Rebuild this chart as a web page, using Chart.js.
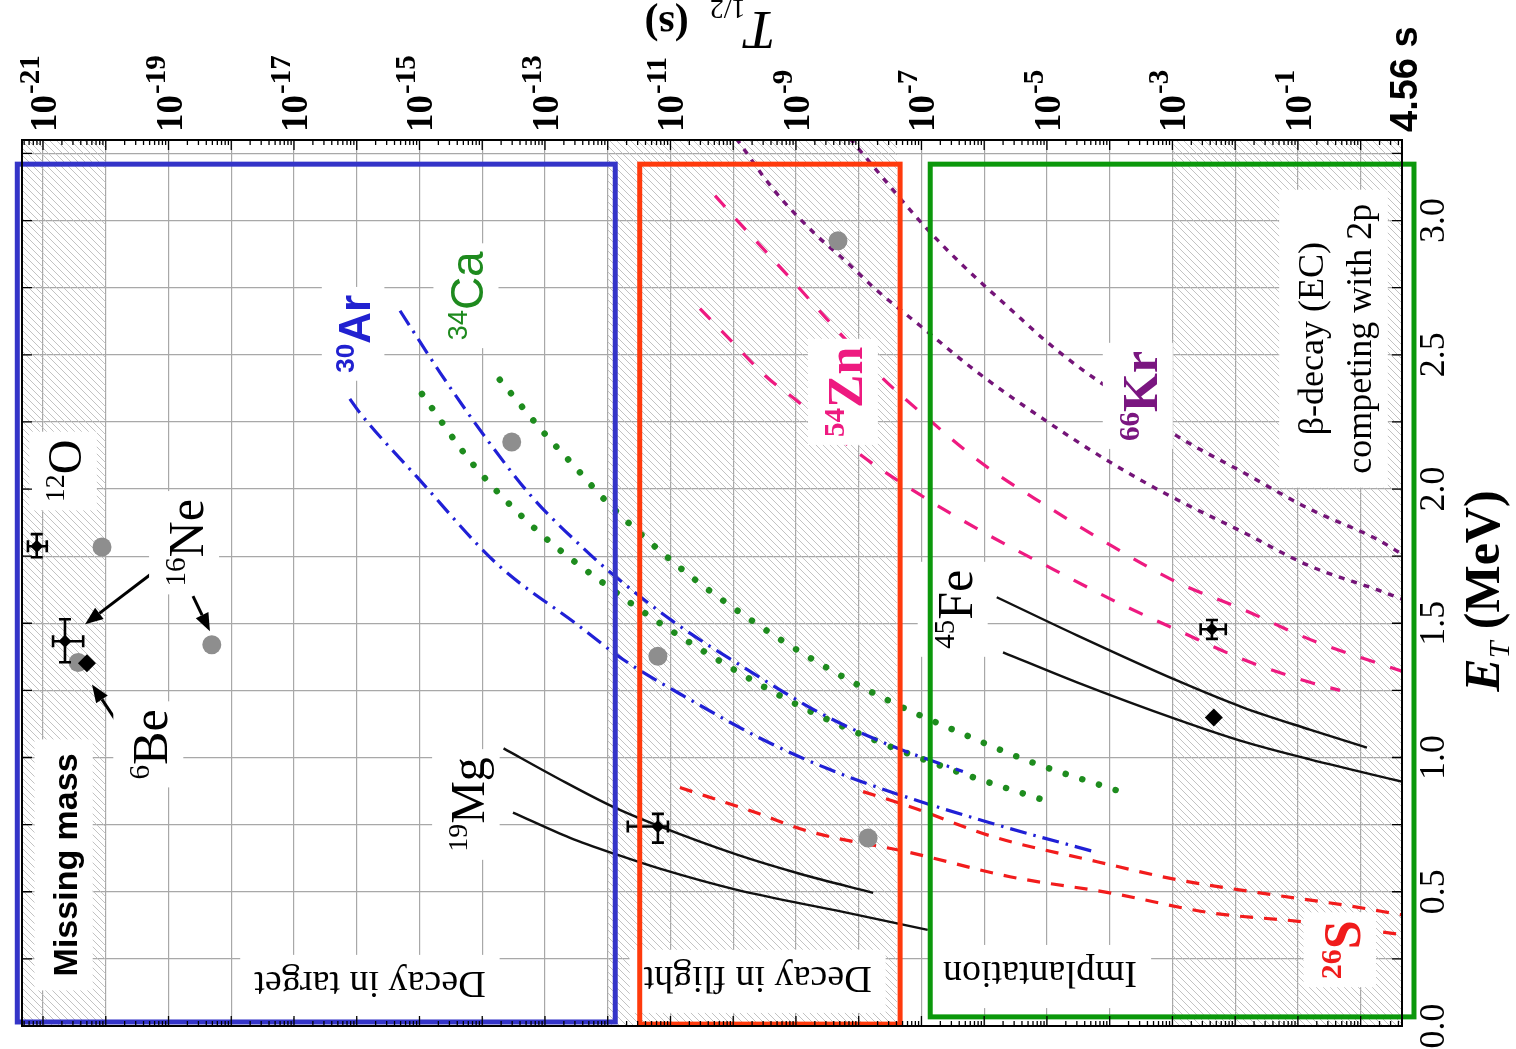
<!DOCTYPE html>
<html><head><meta charset="utf-8">
<script src="https://cdn.jsdelivr.net/npm/chart.js@4.4.1/dist/chart.umd.min.js"></script>
<style>html,body{margin:0;padding:0;background:#fff;}canvas{display:block;}</style>
</head><body>
<canvas id="c" width="1516" height="1049" style="width:1516px;height:1049px"></canvas>
<script>
// ---------------- DATA (log10 of T1/2 in s, and E_T in MeV) ----------------
const logTMin = -21.335, tMax = 4.56;
const eMax = 3.3;
const gridDecades = [-21,-20,-19,-18,-17,-16,-15,-14,-13,-12,-11,-10,-9,-8,-7,-6,-5,-4,-3,-2,-1,0];
const gridEnergies = [0,0.25,0.5,0.75,1,1.25,1.5,1.75,2,2.25,2.5,2.75,3,3.25];
const topTickExponents = [-21,-19,-17,-15,-13,-11,-9,-7,-5,-3,-1];
const energyTickValues = [0,0.5,1,1.5,2,2.5,3];
const energyTickLabels = ['0.0','0.5','1.0','1.5','2.0','2.5','3.0'];

const mg19UpperLogT = [-13.66,-12.79,-11.92,-11.20,-9.94,-8.94,-7.77];
const mg19UpperE    = [1.034,0.922,0.817,0.746,0.638,0.567,0.496];
const mg19LowerLogT = [-13.51,-12.60,-11.85,-11.17,-9.94,-8.25,-6.90];
const mg19LowerE    = [0.795,0.701,0.638,0.586,0.507,0.425,0.358];

const fe45UpperLogT = [-5.80,-4.52,-2.93,-1.88,-0.81,0.10];
const fe45UpperE    = [1.597,1.455,1.287,1.187,1.104,1.037];
const fe45LowerLogT = [-5.70,-4.52,-2.93,-1.88,-0.81,0.66];
const fe45LowerE    = [1.392,1.280,1.142,1.060,0.993,0.910];

const s26LowerLogT = [-10.85,-9.69,-8.78,-7.18,-5.59,-4.00,-2.40,-0.92,0.66];
const s26LowerE    = [0.888,0.799,0.724,0.646,0.556,0.496,0.422,0.388,0.340];
const s26UpperLogT = [-7.93,-7.18,-5.86,-4.20,-2.93,-1.61,-0.28,0.66];
const s26UpperE    = [0.873,0.817,0.705,0.612,0.545,0.496,0.451,0.414];

const ar30UpperLogT = [-15.31,-14.67,-13.92,-13.19,-12.39,-11.96,-10.96,-9.73,-8.57,-7.45,-6.34];
const ar30UpperE    = [2.664,2.433,2.183,1.966,1.780,1.690,1.507,1.321,1.160,1.041,0.948];
const ar30LowerLogT = [-16.11,-15.95,-15.04,-13.76,-12.49,-11.76,-10.69,-9.53,-8.46,-7.45,-5.91,-4.20];
const ar30LowerE    = [2.336,2.284,2.045,1.720,1.496,1.366,1.216,1.067,0.955,0.869,0.757,0.646];

const ca34RightLogT = [-13.72,-13.03,-12.52,-12.01,-10.88,-9.76,-8.65,-7.50,-6.39,-5.27,-3.88];
const ca34RightE    = [2.407,2.213,2.082,1.951,1.713,1.519,1.354,1.209,1.093,0.985,0.877];
const ca34LeftLogT  = [-14.96,-14.15,-13.10,-11.98,-11.14,-10.02,-8.90,-7.77,-6.39,-4.98];
const ca34LeftE     = [2.354,2.093,1.840,1.634,1.496,1.332,1.187,1.067,0.944,0.836];

const zn54UpperLogT = [-10.29,-9.92,-9.45,-8.97,-8.51,-7.66,-7.02,-6.02,-4.98,-3.96,-2.93,-1.88,-0.81,0.66];
const zn54UpperE    = [3.093,2.996,2.877,2.754,2.634,2.422,2.287,2.093,1.933,1.787,1.653,1.552,1.440,1.321];
const zn54LowerLogT = [-10.53,-10.02,-9.49,-8.98,-8.03,-6.99,-5.96,-4.90,-3.88,-2.88,-1.88,-0.81,-0.33];
const zn54LowerE    = [2.672,2.549,2.422,2.328,2.138,1.974,1.832,1.701,1.578,1.470,1.366,1.280,1.250];

const kr66LeftLogT  = [-9.95,-9.37,-8.70,-8.25,-7.74,-7.02,-6.12,-5.06,-4.00,-3.04,-1.88,-0.81,0.26,0.66];
const kr66LeftE     = [3.306,3.119,2.951,2.858,2.746,2.608,2.437,2.261,2.101,1.974,1.840,1.713,1.625,1.590];
const kr66RightLogT = [-8.14,-7.47,-7.06,-6.66,-6.12,-5.59,-5.06,-4.52,-4.00,-2.93,-1.88,-0.81,0.26,0.66];
const kr66RightE    = [3.306,3.119,3.007,2.907,2.784,2.672,2.560,2.459,2.373,2.198,2.063,1.925,1.813,1.757];

const grayLogT = [-20.06,-18.31,-20.44,-13.53,-11.20,-7.85,-8.33];
const grayE    = [1.784,1.420,1.354,2.175,1.377,0.700,2.925];
const diamondLogT = [-20.30,-2.34];
const diamondE    = [1.351,1.149];
const errLogT   = [-21.10,-20.65,-11.20,-2.37];
const errE      = [1.787,1.433,0.743,1.478];
const errLogTLo = [-21.24,-20.84,-11.68,-2.55];
const errLogTHi = [-20.94,-20.36,-11.04,-2.15];
const errELo    = [1.746,1.355,0.683,1.442];
const errEHi    = [1.832,1.515,0.790,1.512];

// ---------------- config ----------------
const SERIF = '"Liberation Serif","Times New Roman",serif';
const SANS = '"Liberation Sans",Arial,sans-serif';
const hatchBands = [[-21.335,-20],[-12,-7.39],[-3,0.659]];
const boxes = [
  {lt0:-21.41, lt1:-11.88, e0:0.015, e1:3.21, color:'#3434c8'},
  {lt0:-11.49, lt1:-7.34,  e0:0.007, e1:3.21, color:'#ff3a0c'},
  {lt0:-6.86,  lt1:0.85,   e0:0.034, e1:3.21, color:'#0b980b'}
];
const nucLabels = [
  {sup:'12', main:'O',  lt:-20.65, e:2.067, font:SERIF, w:'', size:48, color:'#000'},
  {sup:'16', main:'Ne', lt:-18.72, e:1.800, font:SERIF, w:'', size:50, color:'#000'},
  {sup:'6',  main:'Be', lt:-19.29, e:1.049, font:SERIF, w:'', size:50, color:'#000'},
  {sup:'19', main:'Mg', lt:-14.23, e:0.825, font:SERIF, w:'', size:48, color:'#000'},
  {sup:'30', main:'Ar', lt:-16.03, e:2.578, font:SANS,  w:'bold ', size:44, color:'#2121d0'},
  {sup:'34', main:'Ca', lt:-14.23, e:2.720, font:SANS,  w:'', size:46, color:'#1e8a1e'},
  {sup:'54', main:'Zn', lt:-8.22,  e:2.362, font:SERIF, w:'bold ', size:50, color:'#ee1a80'},
  {sup:'66', main:'Kr', lt:-3.52,  e:2.347, font:SERIF, w:'bold ', size:50, color:'#7a1680'},
  {sup:'45', main:'Fe', lt:-6.47,  e:1.552, font:SERIF, w:'', size:50, color:'#000'},
  {sup:'26', main:'S',  lt:-0.30,  e:0.284, font:SERIF, w:'bold ', size:52, color:'#f01c1c'}
];
const regionLabels = [
  {lines:['Missing mass'], lt:-20.65, e:0.60, rot:-90, font:'bold 34px '+SANS, size:34},
  {lines:['Decay in target'], lt:-15.79, e:0.153, rot:180, font:'38px '+SERIF, size:38},
  {lines:['Decay in flight'], lt:-9.61, e:0.172, rot:180, font:'38px '+SERIF, size:38},
  {lines:['Implantation'], lt:-5.11, e:0.19, rot:180, font:'38px '+SERIF, size:38},
  {lines:['\u03b2-decay (EC)','competing with 2p'], lt:-0.41, e:2.56, rot:-90, font:'36px '+SERIF, size:36, lh:48}
];
const arrows = [
  {from:[-19.22,1.694], to:[-20.33,1.496]},
  {from:[-18.61,1.601], to:[-18.34,1.470]},
  {from:[-19.74,1.104], to:[-20.22,1.272]}
];

// ---------------- helpers ----------------
const pts = (lt, e) => lt.map((v, i) => ({x: Math.pow(10, v), y: e[i]}));
const lineDS = (lt, e, st) => Object.assign({data: pts(lt, e), showLine: true, pointRadius: 0, fill: false,
  cubicInterpolationMode: 'monotone', borderCapStyle: 'butt', order: 10}, st);
const stMg = {borderColor:'#111', borderWidth:2.4};
const stS  = {borderColor:'#f21c1c', borderWidth:3.2, borderDash:[13,11]};
const stZn = {borderColor:'#ee1a80', borderWidth:3.2, borderDash:[15,16]};
const stKr = {borderColor:'#741478', borderWidth:3.4, borderDash:[6,7]};
const stAr = {borderColor:'#2020d6', borderWidth:3.2, borderDash:[17,7,2.5,7]};
const stCa = {borderColor:'#1e8c1e', borderWidth:6.5, borderDash:[0.01,17.5], borderCapStyle:'round'};

const datasets = [
  lineDS(mg19UpperLogT, mg19UpperE, stMg), lineDS(mg19LowerLogT, mg19LowerE, stMg),
  lineDS(fe45UpperLogT, fe45UpperE, stMg), lineDS(fe45LowerLogT, fe45LowerE, stMg),
  lineDS(s26LowerLogT, s26LowerE, stS), lineDS(s26UpperLogT, s26UpperE, stS),
  lineDS(ar30UpperLogT, ar30UpperE, stAr), lineDS(ar30LowerLogT, ar30LowerE, stAr),
  lineDS(ca34RightLogT, ca34RightE, stCa), lineDS(ca34LeftLogT, ca34LeftE, stCa),
  lineDS(zn54UpperLogT, zn54UpperE, stZn), lineDS(zn54LowerLogT, zn54LowerE, stZn),
  lineDS(kr66LeftLogT, kr66LeftE, stKr), lineDS(kr66RightLogT, kr66RightE, stKr),
  {data: pts(grayLogT, grayE), pointStyle:'circle', pointRadius:9.5, backgroundColor:'#8e8e8e', borderWidth:0, order: 3},
  {data: pts(diamondLogT, diamondE), pointStyle:'rectRot', pointRadius:9, backgroundColor:'#000', borderWidth:0, order: 1},
  {data: pts(errLogT, errE), pointStyle:'rectRot', pointRadius:6.5, backgroundColor:'#000', borderWidth:0, order: 0}
];

function makeHatch() {
  const s = 7, c = document.createElement('canvas'); c.width = s; c.height = s;
  const g = c.getContext('2d'); g.strokeStyle = '#bcbcbc'; g.lineWidth = 0.9;
  g.beginPath(); g.moveTo(-1,-1); g.lineTo(s+1,s+1); g.moveTo(-1,s-1); g.lineTo(1,s+1); g.moveTo(s-1,-1); g.lineTo(s+1,1); g.stroke();
  return c;
}

// draw lines of rich text (each line is array of parts {t,f,dy,c}) centered at cx,cy
function richLines(ctx, cx, cy, rot, lines, size, lh, bg, padX, padY, color) {
  ctx.save(); ctx.translate(cx, cy); ctx.rotate(rot);
  const widths = lines.map(parts => parts.reduce((s, p) => { ctx.font = p.f; p.w = ctx.measureText(p.t).width; return s + p.w; }, 0));
  const maxW = Math.max(...widths), n = lines.length;
  if (bg) {
    ctx.fillStyle = '#fff';
    const top = -((n - 1) / 2) * lh - 0.66 * size - padY;
    const h = (n - 1) * lh + 1.24 * size + 2 * padY;
    ctx.fillRect(-maxW / 2 - padX, top, maxW + 2 * padX, h);
  }
  ctx.textAlign = 'left'; ctx.textBaseline = 'alphabetic';
  lines.forEach((parts, i) => {
    let x = -widths[i] / 2; const base = (i - (n - 1) / 2) * lh + 0.34 * size;
    parts.forEach(p => { ctx.font = p.f; ctx.fillStyle = p.c || color; ctx.fillText(p.t, x, base + (p.dy || 0)); x += p.w; });
  });
  ctx.restore();
}

const overlay = {
  id: 'overlay',
  beforeDatasetsDraw(chart) {
    const {ctx, chartArea: a, scales: {x}} = chart;
    ctx.save();
    ctx.beginPath(); ctx.rect(a.left, a.top, a.right - a.left, a.bottom - a.top); ctx.clip();
    ctx.fillStyle = ctx.createPattern(makeHatch(), 'repeat');
    hatchBands.forEach(([l0, l1]) => {
      const x0 = x.getPixelForValue(Math.pow(10, l0)), x1 = x.getPixelForValue(Math.pow(10, l1));
      ctx.fillRect(x0, a.top, x1 - x0, a.bottom - a.top);
    });
    ctx.restore();
  },
  afterDatasetsDraw(chart) {
    const {ctx, chartArea: a, scales: {x, y}} = chart;
    const px = lt => x.getPixelForValue(Math.pow(10, lt));
    const py = e => y.getPixelForValue(e);
    // error bars
    ctx.save(); ctx.strokeStyle = '#000'; ctx.lineWidth = 2.6;
    errLogT.forEach((lt, i) => {
      const cx = px(lt), cy = py(errE[i]), xl = px(errLogTLo[i]), xh = px(errLogTHi[i]), yl = py(errELo[i]), yh = py(errEHi[i]);
      ctx.beginPath();
      ctx.moveTo(xl, cy); ctx.lineTo(xh, cy);
      ctx.moveTo(xl, cy - 6); ctx.lineTo(xl, cy + 6); ctx.moveTo(xh, cy - 6); ctx.lineTo(xh, cy + 6);
      ctx.moveTo(cx, yl); ctx.lineTo(cx, yh);
      ctx.moveTo(cx - 6, yl); ctx.lineTo(cx + 6, yl); ctx.moveTo(cx - 6, yh); ctx.lineTo(cx + 6, yh);
      ctx.stroke();
    });
    ctx.restore();
    // arrows
    ctx.save(); ctx.strokeStyle = '#000'; ctx.fillStyle = '#000'; ctx.lineWidth = 3;
    arrows.forEach(ar => {
      const x0 = px(ar.from[0]), y0 = py(ar.from[1]), x1 = px(ar.to[0]), y1 = py(ar.to[1]);
      const ang = Math.atan2(y1 - y0, x1 - x0), L = 18, W = 7;
      const bx = x1 - L * Math.cos(ang), by = y1 - L * Math.sin(ang);
      ctx.beginPath(); ctx.moveTo(x0, y0); ctx.lineTo(bx, by); ctx.stroke();
      ctx.beginPath(); ctx.moveTo(x1, y1);
      ctx.lineTo(bx + W * Math.sin(ang), by - W * Math.cos(ang));
      ctx.lineTo(bx - W * Math.sin(ang), by + W * Math.cos(ang)); ctx.closePath(); ctx.fill();
    });
    ctx.restore();
    // nucleus labels
    nucLabels.forEach(L => {
      const s = L.size, ss = Math.round(s * 0.58);
      richLines(ctx, px(L.lt), py(L.e), -Math.PI / 2,
        [[{t: L.sup, f: L.w + ss + 'px ' + L.font, dy: -0.36 * s}, {t: L.main, f: L.w + s + 'px ' + L.font}]],
        s, 0, true, 8, 4, L.color);
    });
    // region labels
    regionLabels.forEach(L => {
      richLines(ctx, px(L.lt), py(L.e), L.rot * Math.PI / 180,
        L.lines.map(t => [{t: t, f: L.font}]), L.size, L.lh || 0, true, 14, 8, '#000');
    });
    // boxes
    ctx.save(); ctx.lineWidth = 5;
    boxes.forEach(b => {
      ctx.strokeStyle = b.color;
      const x0 = px(b.lt0), x1 = px(b.lt1), y0 = py(b.e0), y1 = py(b.e1);
      ctx.strokeRect(x0, y1, x1 - x0, y0 - y1);
    });
    ctx.restore();
    // frame and ticks
    ctx.save(); ctx.strokeStyle = '#000'; ctx.lineWidth = 2;
    ctx.strokeRect(a.left, a.top, a.right - a.left, a.bottom - a.top);
    ctx.lineWidth = 1.3; ctx.beginPath();
    for (let d = -22; d <= 0; d++) {
      for (let m = 1; m <= 9; m++) {
        const v = m * Math.pow(10, d);
        if (v < Math.pow(10, logTMin) || v > tMax) continue;
        const xx = x.getPixelForValue(v), len = m === 1 ? 10 : 5;
        ctx.moveTo(xx, a.top); ctx.lineTo(xx, a.top + len);
        ctx.moveTo(xx, a.bottom); ctx.lineTo(xx, a.bottom - len);
      }
    }
    gridEnergies.forEach(e => {
      const yy = py(e);
      ctx.moveTo(a.right, yy); ctx.lineTo(a.right - 10, yy);
      ctx.moveTo(a.left, yy); ctx.lineTo(a.left + 10, yy);
    });
    ctx.stroke(); ctx.restore();
    // top tick labels (rotated)
    topTickExponents.forEach(n => {
      const xx = px(n);
      ctx.save(); ctx.translate(xx, a.top - 8); ctx.rotate(-Math.PI / 2);
      ctx.fillStyle = '#000'; ctx.textAlign = 'left'; ctx.textBaseline = 'alphabetic';
      ctx.font = 'bold 37px ' + SERIF; ctx.fillText('10', 0, 13);
      const w = ctx.measureText('10').width;
      ctx.font = 'bold 29px ' + SERIF; ctx.fillText('-' + Math.abs(n), w + 1, -4);
      ctx.restore();
    });
    ctx.save(); ctx.translate(a.right + 2, a.top - 8); ctx.rotate(-Math.PI / 2);
    ctx.fillStyle = '#000'; ctx.textAlign = 'left'; ctx.textBaseline = 'alphabetic';
    ctx.font = 'bold 38px ' + SANS; ctx.fillText('4.56 s', 0, 13); ctx.restore();
    // right tick labels
    energyTickValues.forEach((e, i) => {
      ctx.save(); ctx.translate(a.right + 30, py(e)); ctx.rotate(-Math.PI / 2);
      ctx.fillStyle = '#000'; ctx.textAlign = 'center'; ctx.textBaseline = 'alphabetic';
      ctx.font = '36px ' + SERIF; ctx.fillText(energyTickLabels[i], 0, 12); ctx.restore();
    });
    // axis titles
    richLines(ctx, a.right + 80, py(1.62), -Math.PI / 2,
      [[{t:'E', f:'bold italic 50px ' + SERIF}, {t:'T', f:'italic 30px ' + SERIF, dy: 10}, {t:' (MeV)', f:'bold 50px ' + SERIF}]],
      50, 0, false, 0, 0, '#000');
    richLines(ctx, px(-10.37), a.top - 112, Math.PI,
      [[{t:'T', f:'italic 54px ' + SERIF}, {t:'1/2', f:'28px ' + SERIF, dy: 12}, {t:'  (s)', f:'bold 42px ' + SERIF}]],
      46, 0, false, 0, 0, '#000');
  }
};

new Chart(document.getElementById('c'), {
  type: 'scatter',
  data: {datasets},
  options: {
    responsive: false, animation: false, devicePixelRatio: 1, events: [],
    layout: {padding: {left: 22, right: 114, top: 140, bottom: 23}, autoPadding: false},
    plugins: {legend: {display: false}, tooltip: {enabled: false}},
    scales: {
      x: {type: 'logarithmic', position: 'top', min: Math.pow(10, logTMin), max: tMax,
          afterBuildTicks: s => { s.ticks = gridDecades.map(d => ({value: Math.pow(10, d)})); },
          ticks: {display: false}, grid: {color: '#a8a8a8', lineWidth: 1.2, drawTicks: false}, border: {display: false}},
      y: {type: 'linear', position: 'right', min: 0, max: eMax,
          afterBuildTicks: s => { s.ticks = gridEnergies.map(v => ({value: v})); },
          ticks: {display: false}, grid: {color: '#a8a8a8', lineWidth: 1.2, drawTicks: false}, border: {display: false}}
    }
  },
  plugins: [overlay]
});
</script>
</body></html>
